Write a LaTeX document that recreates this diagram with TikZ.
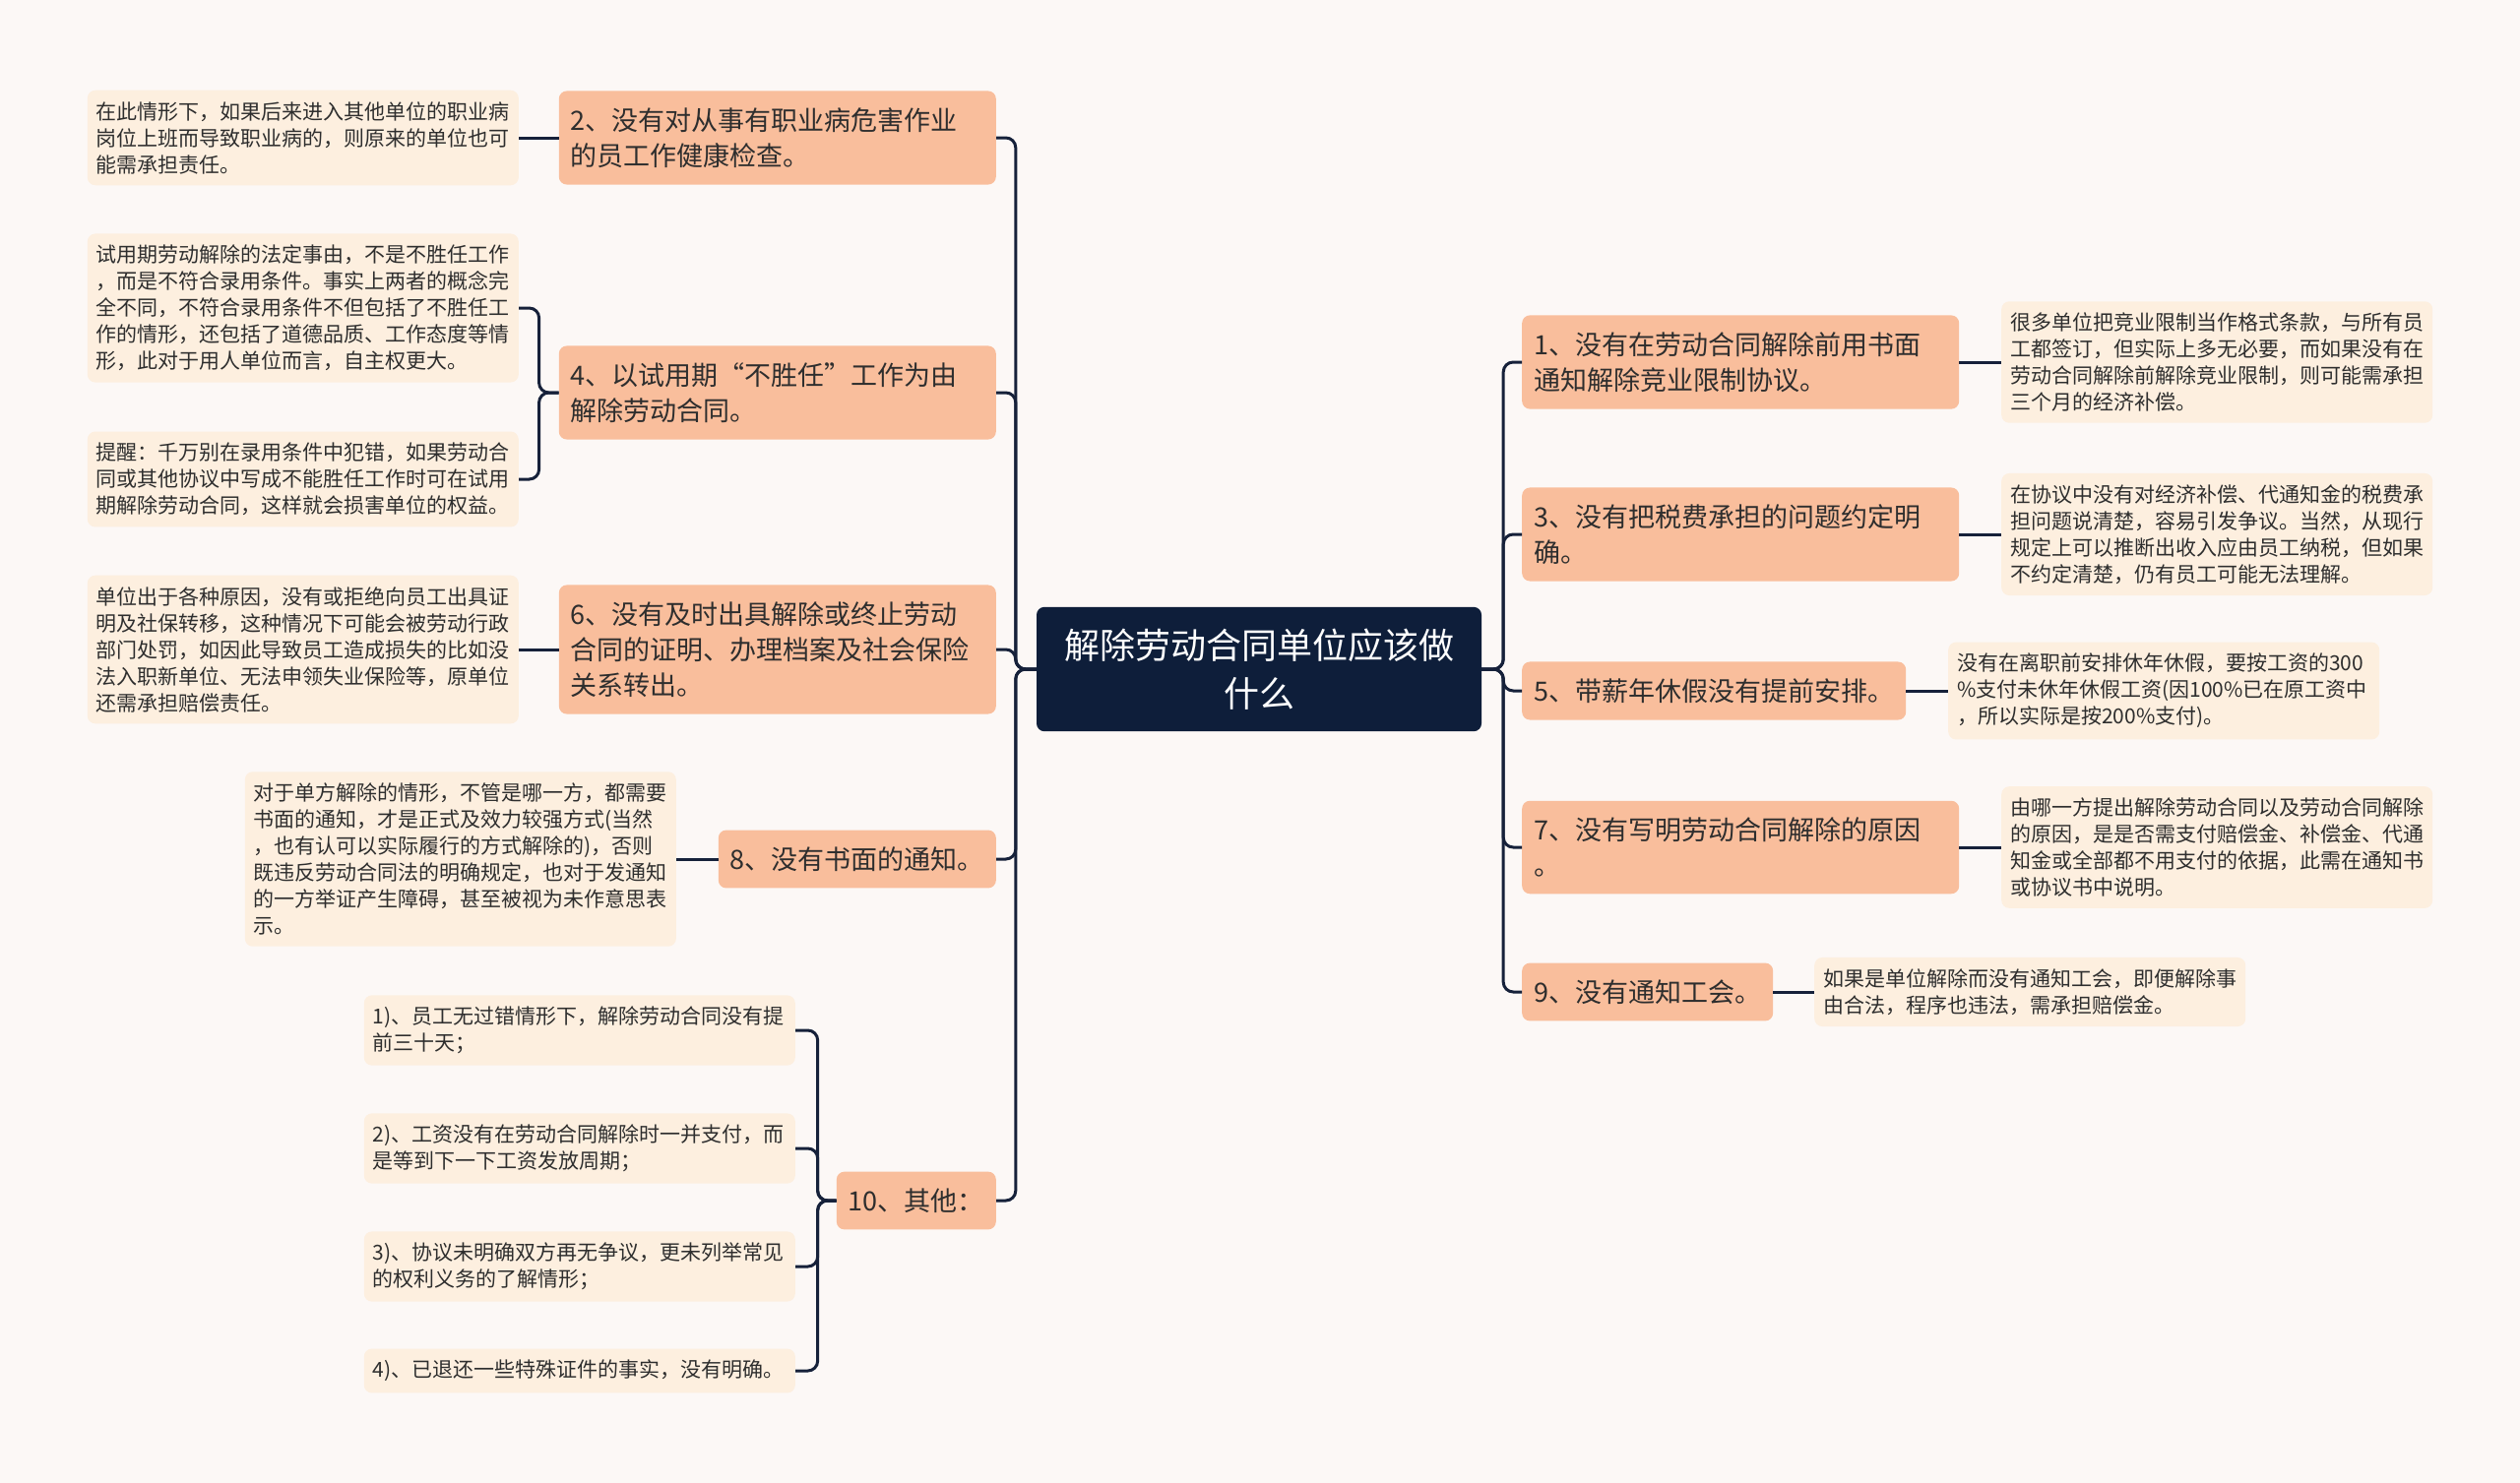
\documentclass[tikz,border=0pt]{standalone}
\usepackage{fontspec}
\setmainfont{Noto Sans CJK SC}
\usetikzlibrary{positioning}
\definecolor{pagebg}{HTML}{FCF8F6}
\definecolor{rootnavy}{HTML}{0E1E3A}
\definecolor{branchsalmon}{HTML}{F9BE9C}
\definecolor{leafcream}{HTML}{FDEFDF}
\definecolor{linkdark}{HTML}{16213A}
\definecolor{textdark}{HTML}{2E2E2E}
\tikzset{
  rootbox/.style={fill=rootnavy, text=white, rounded corners=8pt, align=center,
    inner xsep=28pt, inner ysep=22pt, font=\fontsize{36}{49}\selectfont},
  branchbox/.style={fill=branchsalmon, text=textdark, rounded corners=8pt, align=left,
    inner xsep=12pt, inner ysep=17pt, font=\fontsize{27}{36}\selectfont},
  widebranch/.style={branchbox, text width=420pt},
  leafbox/.style={fill=leafcream, text=textdark, rounded corners=8pt, align=left,
    text width=420pt, inner xsep=9pt, inner ysep=11.5pt, font=\fontsize{21}{27}\selectfont},
  link/.style={draw=linkdark, line width=3pt, rounded corners=10pt},
}

\begin{document}
\begin{tikzpicture}[x=1pt, y=-1pt]
        \fill[pagebg] (0,0) rectangle (2560,1507);
        \node[rootbox] (root) at (1279,680) {解除劳动合同单位应该做\\什么};

        \node[widebranch, anchor=east] (b2) at (1012,140) {2、没有对从事有职业病危害作业\\的员工作健康检查。};
        \node[widebranch, anchor=east] (b4) at (1012,399) {4、以试用期“不胜任”工作为由\\解除劳动合同。};
        \node[widebranch, anchor=east] (b6) at (1012,660) {6、没有及时出具解除或终止劳动\\合同的证明、办理档案及社会保险\\关系转出。};
        \node[branchbox, anchor=east] (b8) at (1012,873) {8、没有书面的通知。};
        \node[branchbox, anchor=east] (b10) at (1012,1220) {10、其他：};

        \node[leafbox, anchor=east] (l2) at (527,140) {在此情形下，如果后来进入其他单位的职业病\\岗位上班而导致职业病的，则原来的单位也可\\能需承担责任。};
        \node[leafbox, anchor=east] (l4a) at (527,313) {试用期劳动解除的法定事由，不是不胜任工作\\，而是不符合录用条件。事实上两者的概念完\\全不同，不符合录用条件不但包括了不胜任工\\作的情形，还包括了道德品质、工作态度等情\\形，此对于用人单位而言，自主权更大。};
        \node[leafbox, anchor=east] (l4b) at (527,487) {提醒：千万别在录用条件中犯错，如果劳动合\\同或其他协议中写成不能胜任工作时可在试用\\期解除劳动合同，这样就会损害单位的权益。};
        \node[leafbox, anchor=east] (l6) at (527,660) {单位出于各种原因，没有或拒绝向员工出具证\\明及社保转移，这种情况下可能会被劳动行政\\部门处罚，如因此导致员工造成损失的比如没\\法入职新单位、无法申领失业保险等，原单位\\还需承担赔偿责任。};
        \node[leafbox, anchor=east] (l8) at (687,873) {对于单方解除的情形，不管是哪一方，都需要\\书面的通知，才是正式及效力较强方式(当然\\，也有认可以实际履行的方式解除的)，否则\\既违反劳动合同法的明确规定，也对于发通知\\的一方举证产生障碍，甚至被视为未作意思表\\示。};
        \node[leafbox, anchor=east] (l10a) at (808,1047) {1)、员工无过错情形下，解除劳动合同没有提\\前三十天；};
        \node[leafbox, anchor=east] (l10b) at (808,1167) {2)、工资没有在劳动合同解除时一并支付，而\\是等到下一下工资发放周期；};
        \node[leafbox, anchor=east] (l10c) at (808,1287) {3)、协议未明确双方再无争议，更未列举常见\\的权利义务的了解情形；};
        \node[leafbox, anchor=east] (l10d) at (808,1393) {4)、已退还一些特殊证件的事实，没有明确。};

        \node[widebranch, anchor=west] (r1) at (1546,368) {1、没有在劳动合同解除前用书面\\通知解除竞业限制协议。};
        \node[widebranch, anchor=west] (r3) at (1546,543) {3、没有把税费承担的问题约定明\\确。};
        \node[branchbox, anchor=west] (r5) at (1546,702) {5、带薪年休假没有提前安排。};
        \node[widebranch, anchor=west] (r7) at (1546,861) {7、没有写明劳动合同解除的原因\\。};
        \node[branchbox, anchor=west] (r9) at (1546,1008) {9、没有通知工会。};

        \node[leafbox, anchor=west] (rl1) at (2033,368) {很多单位把竞业限制当作格式条款，与所有员\\工都签订，但实际上多无必要，而如果没有在\\劳动合同解除前解除竞业限制，则可能需承担\\三个月的经济补偿。};
        \node[leafbox, anchor=west] (rl3) at (2033,543) {在协议中没有对经济补偿、代通知金的税费承\\担问题说清楚，容易引发争议。当然，从现行\\规定上可以推断出收入应由员工纳税，但如果\\不约定清楚，仍有员工可能无法理解。};
        \node[leafbox, anchor=west] (rl5) at (1979,702) {没有在离职前安排休年休假，要按工资的300\\\%支付未休年休假工资(因100\%已在原工资中\\，所以实际是按200\%支付)。};
        \node[leafbox, anchor=west] (rl7) at (2033,861) {由哪一方提出解除劳动合同以及劳动合同解除\\的原因，是是否需支付赔偿金、补偿金、代通\\知金或全部都不用支付的依据，此需在通知书\\或协议书中说明。};
        \node[leafbox, anchor=west] (rl9) at (1843,1008) {如果是单位解除而没有通知工会，即便解除事\\由合法，程序也违法，需承担赔偿金。};

        \foreach \b in {b2,b4,b6,b8,b10}
          \draw[link] (root.west) -- ++(-21,0) |- (\b.east);
        \foreach \r in {r1,r3,r5,r7,r9}
          \draw[link] (root.east) -- ++(22,0) |- (\r.west);

        \foreach \l in {l4a,l4b}
          \draw[link] (b4.west) -- ++(-20,0) |- (\l.east);
        \foreach \l in {l10a,l10b,l10c,l10d}
          \draw[link] (b10.west) -- ++(-19,0) |- (\l.east);
        \draw[link] (b2.west) -- (l2.east);
        \draw[link] (b6.west) -- (l6.east);
        \draw[link] (b8.west) -- (l8.east);

        \draw[link] (r1.east) -- (rl1.west);
        \draw[link] (r3.east) -- (rl3.west);
        \draw[link] (r5.east) -- (rl5.west);
        \draw[link] (r7.east) -- (rl7.west);
        \draw[link] (r9.east) -- (rl9.west);
      \end{tikzpicture}
\end{document}
